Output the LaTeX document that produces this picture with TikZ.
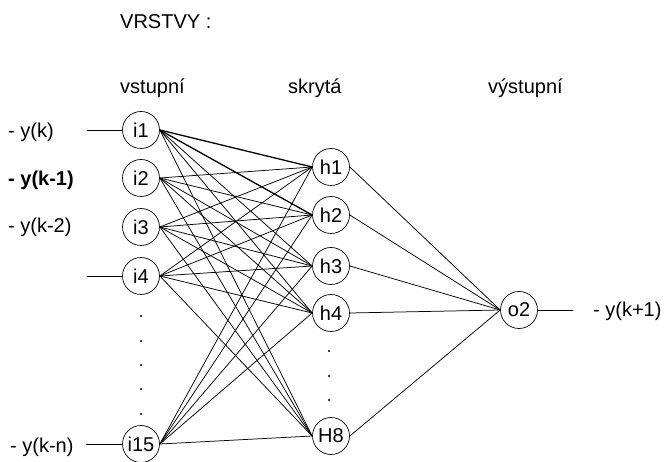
\documentclass[tikz,border=0pt]{standalone}
\usepackage{fontspec}
\setmainfont{Liberation Sans}
\begin{document}
\begin{tikzpicture}[x=1pt,y=-1pt,
  neuron/.style={draw,circle,minimum size=37pt,inner sep=0pt,line width=0.7pt,font=\fontsize{20}{24}\selectfont},
  lbl/.style={anchor=west,inner sep=0pt,font=\fontsize{20}{24}\selectfont},
  conn/.style={line width=0.75pt},
  bconn/.style={line width=1.3pt},
  dotc/.style={fill=black,circle,inner sep=0pt,minimum size=2.2pt}]
\useasboundingbox (0,0) rectangle (667,462);
% titles
\node[lbl] (t0) at (120,22) {VRSTVY :};
\node[lbl] (t1) at (120,88) {vstupní};
\node[lbl] (t2) at (288,88) {skrytá};
\node[lbl] (t3) at (488,88) {výstupní};
% input nodes
\node[neuron] (i1) at (141,130) {i1};
\node[neuron] (i2) at (141,178) {i2};
\node[neuron] (i3) at (141,227) {i3};
\node[neuron] (i4) at (141,276) {i4};
\node[neuron] (i15) at (141,444) {i15};
% hidden
\node[neuron] (h1) at (331,167) {h1};
\node[neuron] (h2) at (331,215) {h2};
\node[neuron] (h3) at (331,266) {h3};
\node[neuron] (h4) at (331,313) {h4};
\node[neuron] (h8) at (331,436) {H8};
% output
\node[neuron] (o2) at (519,310) {o2};
% input labels
\node[lbl] (l1) at (8,132) {- y(k)};
\node[lbl,font=\fontsize{20}{24}\selectfont\bfseries] (l2) at (8,180) {- y(k-1)};
\node[lbl] (l3) at (8,227) {- y(k-2)};
\node[lbl] (l4) at (10,447) {- y(k-n)};
\node[lbl] (lo) at (593,311) {- y(k+1)};
% input stubs
\coordinate (s1) at (87,130);
\coordinate (s4) at (87,276);
\coordinate (s15) at (86,444);
\coordinate (so) at (573,310);
\draw[conn] (s1) -- (i1.west);
\draw[conn] (s4) -- (i4.west);
\draw[conn] (s15) -- (i15.west);
\draw[conn] (o2.east) -- (so);
% input to hidden
\foreach \i in {i2,i3,i4,i15}
  \foreach \h in {h1,h2,h3,h4,h8}
    \draw[conn] (\i.east) -- (\h.west);
\draw[bconn] (i1.east) -- (h1.west);
\draw[bconn] (i1.east) -- (h2.west);
\foreach \h in {h3,h4,h8}
  \draw[conn] (i1.east) -- (\h.west);
% hidden to output
\foreach \h in {h1,h2,h3,h4,h8}
  \draw[conn] (\h.east) -- (o2.west);
% dots
\foreach \y [count=\k] in {316,341,365,389,414}
  \node[dotc] (di\k) at (141,\y) {};
\foreach \y [count=\k] in {351,376,400}
  \node[dotc] (dh\k) at (329,\y) {};
\end{tikzpicture}
\end{document}
